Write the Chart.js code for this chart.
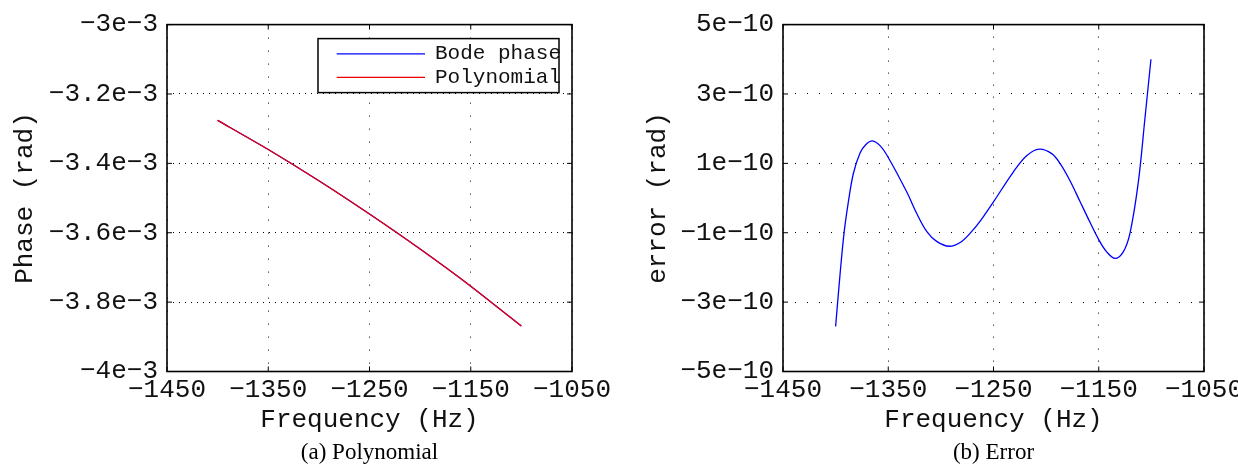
<!DOCTYPE html>
<html>
<head>
<meta charset="utf-8">
<script src="https://cdn.jsdelivr.net/npm/chart.js@4.4.1/dist/chart.umd.min.js"></script>
<style>
  html, body { margin: 0; padding: 0; background: #fff; overflow: hidden; }
  #wrapA { position: absolute; left: 0; top: 0; width: 620px; height: 471px; }
  #wrapB { position: absolute; left: 620px; top: 0; width: 640px; height: 471px; }
</style>
</head>
<body>
<div id="wrapA"><canvas id="chartA"></canvas></div>
<div id="wrapB"><canvas id="chartB"></canvas></div>
<script>
// ----- DATA -----
const freqTicks = [-1450, -1350, -1250, -1150, -1050];
const freqTickLabels = ['\u22121450', '\u22121350', '\u22121250', '\u22121150', '\u22121050'];

// (a) phase vs frequency
const freqA = [-1400, -1350, -1300, -1250, -1200, -1150, -1100];
const bodePhase = [-3.276e-3, -3.360e-3, -3.450e-3, -3.546e-3, -3.647e-3, -3.754e-3, -3.869e-3];
const polyPhase = [-3.276e-3, -3.360e-3, -3.450e-3, -3.546e-3, -3.647e-3, -3.754e-3, -3.869e-3];
const phaseTicks = [-4e-3, -3.8e-3, -3.6e-3, -3.4e-3, -3.2e-3, -3e-3];
const phaseTickLabels = ['\u22124e\u22123', '\u22123.8e\u22123', '\u22123.6e\u22123', '\u22123.4e\u22123', '\u22123.2e\u22123', '\u22123e\u22123'];

// (b) error vs frequency
const freqB = [-1400.0, -1395.8, -1392.0, -1387.9, -1383.2, -1376.8, -1371.0, -1365.1, -1357.8, -1350.0,
  -1332.5, -1323.0, -1313.5, -1304.0, -1292.0, -1280.2, -1269.2, -1259.7, -1250.0,
  -1231.2, -1218.5, -1206.5, -1194.7, -1186.8, -1177.3, -1167.8, -1158.3, -1150.0,
  -1142.5, -1134.6, -1126.7, -1120.3, -1112.4, -1106.1, -1100.4];
const errorVals = [-3.70e-10, -2.20e-10, -1.01e-10, -0.11e-10, 0.70e-10, 1.30e-10, 1.55e-10, 1.65e-10, 1.51e-10, 1.17e-10,
  0.18e-10, -0.44e-10, -0.96e-10, -1.25e-10, -1.39e-10, -1.25e-10, -0.91e-10, -0.54e-10, -0.11e-10,
  0.75e-10, 1.22e-10, 1.41e-10, 1.28e-10, 1.00e-10, 0.50e-10, -0.10e-10, -0.70e-10, -1.20e-10,
  -1.55e-10, -1.74e-10, -1.55e-10, -1.01e-10, 0.46e-10, 2.30e-10, 4.00e-10];
const errorTicks = [-5e-10, -3e-10, -1e-10, 1e-10, 3e-10, 5e-10];
const errorTickLabels = ['\u22125e\u221210', '\u22123e\u221210', '\u22121e\u221210', '1e\u221210', '3e\u221210', '5e\u221210'];

// ----- STYLE -----
const MONO = "'Liberation Mono', 'DejaVu Sans Mono', monospace";
const SERIF = "'Liberation Serif', 'DejaVu Serif', serif";
Chart.defaults.font.family = MONO;
Chart.defaults.color = '#111';

function line(ctx, x1, y1, x2, y2) {
  ctx.beginPath();
  ctx.moveTo(x1, y1);
  ctx.lineTo(x2, y2);
  ctx.stroke();
}

// box round the plot, with small inward ticks on all four sides
const framePlugin = {
  id: 'frame',
  afterDraw(chart) {
    const { ctx, chartArea: a, scales } = chart;
    ctx.save();
    ctx.strokeStyle = '#000';
    ctx.lineWidth = 1;
    scales.x.ticks.forEach(t => {
      const px = scales.x.getPixelForValue(t.value);
      line(ctx, px, a.bottom, px, a.bottom - 5);
      line(ctx, px, a.top, px, a.top + 5);
    });
    scales.y.ticks.forEach(t => {
      const py = scales.y.getPixelForValue(t.value);
      line(ctx, a.left, py, a.left + 5, py);
      line(ctx, a.right, py, a.right - 5, py);
    });
    ctx.lineWidth = 1.6;
    ctx.strokeRect(a.left, a.top, a.right - a.left, a.bottom - a.top);
    ctx.restore();
  }
};

// legend drawn inside the plot, top right
const boxLegend = {
  id: 'boxLegend',
  afterDraw(chart, args, opts) {
    if (!opts.display) return;
    const { ctx, chartArea: a } = chart;
    const w = 241, h = 54;
    const left = a.right - 13 - w, top = a.top + 14;
    ctx.save();
    ctx.fillStyle = '#fff';
    ctx.fillRect(left, top, w, h);
    ctx.strokeStyle = '#000';
    ctx.lineWidth = 1.5;
    ctx.strokeRect(left, top, w, h);
    ctx.font = `21px ${MONO}`;
    ctx.textBaseline = 'middle';
    chart.data.datasets.forEach((ds, i) => {
      const y = top + 15.3 + i * 23.4;
      ctx.strokeStyle = ds.borderColor;
      ctx.lineWidth = 1.3;
      line(ctx, left + 18.7, y, left + 107, y);
      ctx.fillStyle = '#111';
      ctx.fillText(ds.label, left + 117, y);
    });
    ctx.restore();
  }
};

function buildOptions(cfg) {
  return {
    responsive: true,
    maintainAspectRatio: false,
    animation: false,
    layout: { padding: { left: 0, right: cfg.padRight, top: 20, bottom: 0 } },
    plugins: {
      legend: { display: false },
      tooltip: { enabled: false },
      title: {
        display: true,
        text: cfg.caption,
        position: 'bottom',
        fullSize: false,
        color: '#000',
        font: { family: SERIF, size: 23, weight: 'normal' },
        padding: { top: 2, bottom: 4.2 },
      },
      boxLegend: { display: cfg.legend },
    },
    scales: {
      x: {
        type: 'linear',
        min: -1450,
        max: -1050,
        afterBuildTicks: s => { s.ticks = freqTicks.map(v => ({ value: v })); },
        afterFit: s => { s.height = 65.7; },
        ticks: {
          font: { size: 26 },
          padding: 3,
          maxRotation: 0,
          autoSkip: false,
          callback: (v, i) => freqTickLabels[i],
        },
        grid: { color: '#000', lineWidth: 1, drawTicks: false },
        border: { display: false, dash: cfg.dashX },
        title: {
          display: true,
          text: 'Frequency (Hz)',
          font: { size: 26 },
          padding: { top: 0, bottom: 1.6 },
        },
      },
      y: {
        type: 'linear',
        min: cfg.yTicks[0],
        max: cfg.yTicks[cfg.yTicks.length - 1],
        afterBuildTicks: s => { s.ticks = cfg.yTicks.map(v => ({ value: v })); },
        afterFit: s => { s.width = cfg.yWidth; },
        ticks: {
          font: { size: 26 },
          padding: 9,
          autoSkip: false,
          callback: (v, i) => cfg.yLabels[i],
        },
        grid: { color: '#000', lineWidth: 1, drawTicks: false },
        border: { display: false, dash: cfg.dashY },
        title: {
          display: true,
          text: cfg.yTitle,
          font: { size: 26 },
          padding: { top: cfg.yTitlePad, bottom: 0 },
        },
      },
    },
  };
}

// ----- (a) POLYNOMIAL -----
new Chart(document.getElementById('chartA'), {
  type: 'line',
  data: {
    datasets: [
      {
        label: 'Bode phase',
        data: freqA.map((f, i) => ({ x: f, y: bodePhase[i] })),
        borderColor: '#0000ff',
        borderWidth: 1.3,
        pointRadius: 0,
        tension: 0.2,
        order: 1,
      },
      {
        label: 'Polynomial',
        data: freqA.map((f, i) => ({ x: f, y: polyPhase[i] })),
        borderColor: '#ee0000',
        borderWidth: 1.3,
        pointRadius: 0,
        tension: 0.2,
        order: 0,
      },
    ],
  },
  options: buildOptions({
    caption: '(a) Polynomial',
    legend: true,
    padRight: 48,
    yWidth: 167,
    yTitlePad: 9.4,
    yTitle: 'Phase (rad)',
    yTicks: phaseTicks,
    yLabels: phaseTickLabels,
    dashX: [1, 12],
    dashY: [1, 5],
  }),
  plugins: [framePlugin, boxLegend],
});

// ----- (b) ERROR -----
new Chart(document.getElementById('chartB'), {
  type: 'line',
  data: {
    datasets: [
      {
        label: 'error',
        data: freqB.map((f, i) => ({ x: f, y: errorVals[i] })),
        borderColor: '#0000ff',
        borderWidth: 1.3,
        pointRadius: 0,
        tension: 0.35,
      },
    ],
  },
  options: buildOptions({
    caption: '(b) Error',
    legend: false,
    padRight: 56,
    yWidth: 163,
    yTitlePad: 22.4,
    yTitle: 'error (rad)',
    yTicks: errorTicks,
    yLabels: errorTickLabels,
    dashX: [1, 11],
    dashY: [1, 11],
  }),
  plugins: [framePlugin, boxLegend],
});
</script>
</body>
</html>
